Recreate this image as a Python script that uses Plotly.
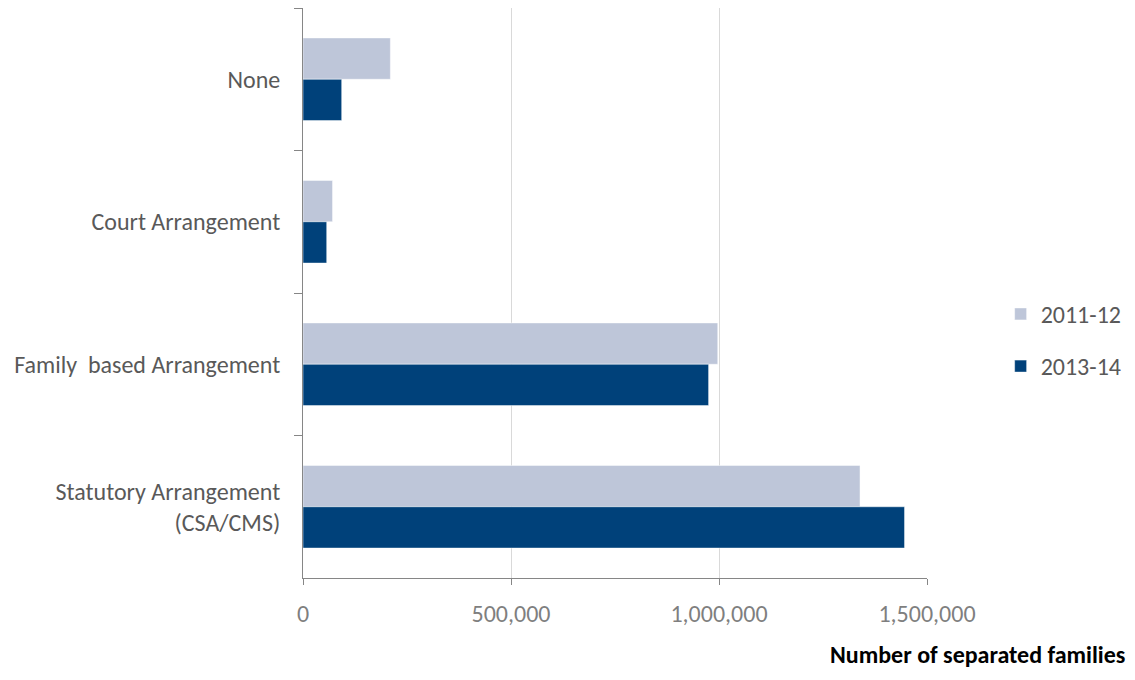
import plotly.graph_objects as go

categories = ["None", "Court Arrangement", "Family  based Arrangement", "Statutory Arrangement<br>(CSA/CMS)"]
series_names = ["2011-12", "2013-14"]
values_2011 = [210000, 71000, 997000, 1339000]
values_2013 = [93000, 57000, 975000, 1446000]
x_ticks = [0, 500000, 1000000, 1500000]
x_tick_labels = ["0", "500,000", "1,000,000", "1,500,000"]
colors = ["#BEC6D9", "#00417A"]

FONT = "Carlito, 'Liberation Sans Narrow', 'Open Sans', sans-serif"

fig = go.Figure()
for i, (name, vals) in enumerate(zip(series_names, [values_2011, values_2013])):
    fig.add_trace(go.Bar(
        y=categories, x=vals, name=name, orientation="h",
        marker=dict(color=colors[i], line=dict(color="rgba(255,255,255,0.6)", width=0.8)),
        legendgroup=name,
    ))

# page has an 8px body margin on every side, so the figure is sized 16px smaller
fig.update_layout(
    width=1119, height=664,
    margin=dict(l=295, r=200, t=0, b=94),
    barmode="group", bargap=0.42, bargroupgap=0,
    plot_bgcolor="white", paper_bgcolor="white",
    font=dict(family=FONT, size=24, color="#595959"),
    legend=dict(x=1.118, y=0.417, xanchor="left", yanchor="middle",
                traceorder="grouped", tracegroupgap=18,
                font=dict(size=24, color="#595959"),
                itemwidth=30),
    showlegend=True,
)
fig.update_xaxes(
    range=[0, 1500000], tickvals=x_ticks, ticktext=x_tick_labels,
    showgrid=True, gridcolor="#D9D9D9", gridwidth=1,
    showline=True, linecolor="#868686", linewidth=1,
    ticks="outside", ticklen=6, tickcolor="#868686",
    zeroline=False, ticklabelstandoff=8,
    tickfont=dict(size=24, color="#7F7F7F"),
)
fig.update_yaxes(
    autorange="reversed", categoryorder="array", categoryarray=categories,
    showline=True, linecolor="#868686", linewidth=1,
    ticks="outside", ticklen=8, tickcolor="#868686", tickson="boundaries",
    showgrid=False, ticklabelstandoff=17,
    tickfont=dict(size=24, color="#595959"),
)
fig.add_annotation(
    text="<b>Number of separated families</b>", xref="paper", yref="paper",
    x=1.3205, y=-0.1632, xanchor="right", yanchor="bottom", showarrow=False,
    font=dict(size=24, color="#000000", family=FONT),
)
fig.write_html("out.html")
